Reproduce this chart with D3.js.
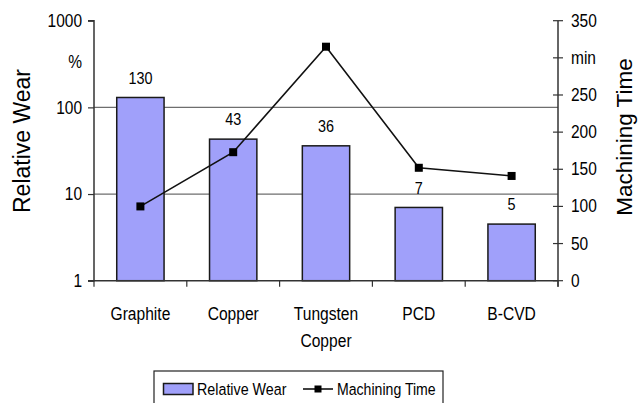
<!DOCTYPE html>
<html>
<head>
<meta charset="utf-8">
<script src="https://cdn.jsdelivr.net/npm/d3@7"></script>
<style>
  html, body { margin: 0; padding: 0; background: #fff; }
  svg { display: block; font-family: "Liberation Sans", Arial, sans-serif; }
</style>
</head>
<body>
<svg id="chart" width="638" height="403"></svg>
<script>
const categories = ["Graphite", "Copper", "Tungsten Copper", "PCD", "B-CVD"];
const categoryLines = [["Graphite"], ["Copper"], ["Tungsten", "Copper"], ["PCD"], ["B-CVD"]];
const relativeWear = [130, 43, 36, 7, 4.5];
const wearLabels = ["130", "43", "36", "7", "5"];
const machiningTime = [100, 173, 315, 152, 141];
const leftTicks = [1, 10, 100, 1000];
const rightTicks = [0, 50, 100, 150, 200, 250, 300, 350];
const rightTickLabels = ["0", "50", "100", "150", "200", "250", "min", "350"];
const gridValues = [10, 100];
const seriesNames = ["Relative Wear", "Machining Time"];

const svg = d3.select("#chart");
const L = 94, R = 558, T = 20.7, B = 280.7;
const stretch = "scale(1,1.2)";
const ink = "#000";

const x = d3.scaleBand().domain(categories).range([L, R]).paddingInner(0.49).paddingOuter(0.245);
const yL = d3.scaleLog().domain([1, 1000]).range([B, T]);
const yR = d3.scaleLinear().domain([0, 350]).range([B, T]);

// gridlines
svg.append("g").selectAll("line").data(gridValues).join("line")
  .attr("x1", L).attr("x2", R)
  .attr("y1", d => yL(d)).attr("y2", d => yL(d))
  .attr("stroke", "#6e6e6e").attr("stroke-width", 1.2);

// bars
svg.append("g").selectAll("rect").data(relativeWear).join("rect")
  .attr("x", (d, i) => x(categories[i]))
  .attr("width", x.bandwidth())
  .attr("y", d => yL(d))
  .attr("height", d => B - yL(d))
  .attr("fill", "#a0a0fa")
  .attr("stroke", "#1a1a1a").attr("stroke-width", 1.5);

// bar labels
svg.append("g").selectAll("g").data(relativeWear).join("g")
  .attr("transform", (d, i) => `translate(${x(categories[i]) + x.bandwidth() / 2},${yL(d) - 20}) ${stretch}`)
  .append("text")
  .attr("text-anchor", "middle").attr("dy", "0.35em")
  .attr("font-size", 14.4).attr("fill", ink)
  .text((d, i) => wearLabels[i]);

// left axis
const axL = d3.axisLeft(yL).tickValues(leftTicks).tickFormat(d3.format("d")).tickSize(6).tickPadding(6);
const gL = svg.append("g").attr("transform", `translate(${L},0)`).call(axL);
gL.select(".domain").attr("stroke", "#333").attr("stroke-width", 1.5).attr("d", `M-6,${T}H0V${B}H-6`);
gL.selectAll(".tick line").attr("stroke", "#333").attr("stroke-width", 1.2);
gL.selectAll(".tick text").attr("font-size", 15.5).attr("fill", ink).attr("font-family", null)
  .attr("transform", stretch);
gL.append("g").attr("transform", `translate(-12,${yL(335)}) ${stretch}`)
  .append("text").attr("text-anchor", "end").attr("dy", "0.32em")
  .attr("font-size", 15.5).attr("fill", ink).text("%");

// right axis
const gR = svg.append("g").attr("transform", `translate(${R},0)`);
gR.append("line").attr("x1", 0).attr("x2", 0).attr("y1", T).attr("y2", B + 6)
  .attr("stroke", "#333").attr("stroke-width", 1.5);
const rt = gR.selectAll("g.tick").data(rightTicks).join("g")
  .attr("transform", d => `translate(0,${yR(d)})`);
rt.append("line").attr("x1", -5).attr("x2", 5).attr("stroke", "#333").attr("stroke-width", 1.2);
rt.append("text").attr("x", 13).attr("dy", "0.32em").attr("transform", stretch)
  .attr("font-size", 15.5).attr("fill", ink)
  .text((d, i) => rightTickLabels[i]);

// bottom axis
const gB = svg.append("g").attr("transform", `translate(0,${B})`);
gB.append("line").attr("x1", L - 6).attr("x2", R).attr("stroke", "#333").attr("stroke-width", 1.5);
const bounds = categories.map(c => x(c) - x.step() * x.paddingOuter()).concat([R]);
gB.selectAll("line.tk").data(bounds).join("line").attr("class", "tk")
  .attr("x1", d => d).attr("x2", d => d).attr("y1", 0).attr("y2", 6)
  .attr("stroke", "#333").attr("stroke-width", 1.2);
const catG = gB.selectAll("g.cat").data(categoryLines).join("g").attr("class", "cat")
  .attr("transform", (d, i) => `translate(${x(categories[i]) + x.bandwidth() / 2},32.6) ${stretch}`);
catG.selectAll("text").data(d => d).join("text")
  .attr("text-anchor", "middle").attr("dy", "0.35em")
  .attr("y", (d, j) => j * 22.3)
  .attr("font-size", 15.6).attr("fill", ink)
  .text(d => d);

// line series
const lineGen = d3.line().x((d, i) => x(categories[i]) + x.bandwidth() / 2).y(d => yR(d));
svg.append("path").datum(machiningTime).attr("d", lineGen)
  .attr("fill", "none").attr("stroke", "#111").attr("stroke-width", 1.6);
svg.append("g").selectAll("rect").data(machiningTime).join("rect")
  .attr("x", (d, i) => x(categories[i]) + x.bandwidth() / 2 - 4)
  .attr("y", d => yR(d) - 4)
  .attr("width", 8).attr("height", 8).attr("fill", "#000");

// axis titles
svg.append("text").attr("transform", `translate(30,141) rotate(-90)`)
  .attr("text-anchor", "middle").attr("font-size", 23).attr("fill", ink)
  .text(seriesNames[0]);
svg.append("text").attr("transform", `translate(632,137) rotate(-90)`)
  .attr("text-anchor", "middle").attr("font-size", 22.5).attr("fill", ink)
  .text(seriesNames[1]);

// legend
const lg = svg.append("g");
lg.append("rect").attr("x", 154).attr("y", 371).attr("width", 289).attr("height", 45)
  .attr("fill", "#fff").attr("stroke", "#222").attr("stroke-width", 1.2);
lg.append("rect").attr("x", 163.5).attr("y", 383.5).attr("width", 29.5).attr("height", 11)
  .attr("fill", "#a0a0fa").attr("stroke", "#1a1a1a").attr("stroke-width", 1.5);
lg.append("g").attr("transform", `translate(197,389) ${stretch}`).append("text")
  .attr("dy", "0.35em").attr("font-size", 14.3).attr("fill", ink).text(seriesNames[0]);
lg.append("line").attr("x1", 303).attr("x2", 333).attr("y1", 389).attr("y2", 389)
  .attr("stroke", "#111").attr("stroke-width", 1.6);
lg.append("rect").attr("x", 314.5).attr("y", 385.5).attr("width", 7).attr("height", 7).attr("fill", "#000");
lg.append("g").attr("transform", `translate(337,389) ${stretch}`).append("text")
  .attr("dy", "0.35em").attr("font-size", 14.1).attr("fill", ink).text(seriesNames[1]);
</script>
</body>
</html>
